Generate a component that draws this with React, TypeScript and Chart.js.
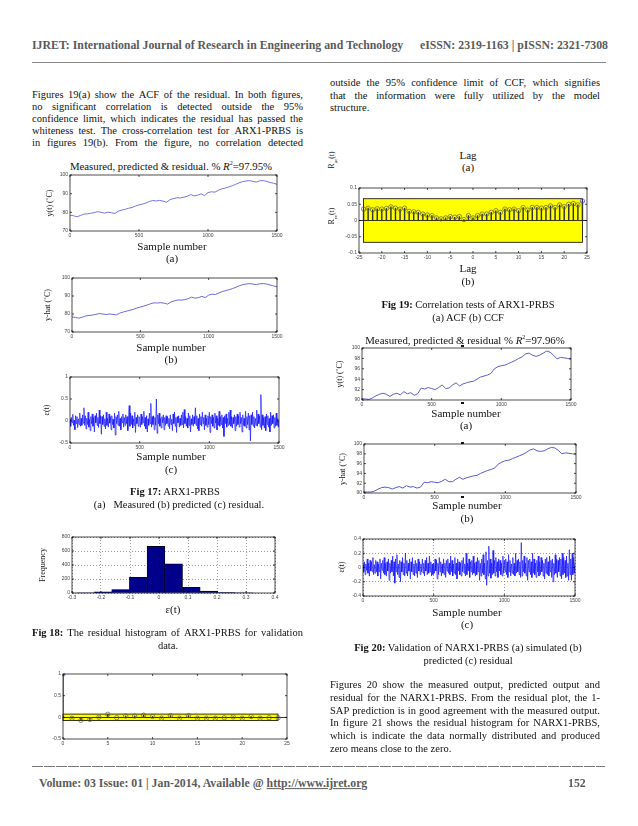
import React, { useEffect, useRef } from "react";
import { Chart, registerables } from "chart.js";
Chart.register(...registerables);

// ---------- DATA ----------
// Fig 17 (a) measured / (b) predicted temperature, one value every 25 samples
const measured17 = [78.5, 78.2, 77.6, 78.3, 79.0, 79.2, 79.5, 79.8, 80.4, 80.0, 79.6, 80.1, 79.8, 79.4, 80.6, 81.2, 81.6, 82.2, 82.6, 83.4, 84.0, 84.4, 85.0, 85.8, 86.3, 86.1, 86.4, 86.0, 85.4, 86.8, 87.4, 87.8, 87.7, 88.1, 88.6, 89.5, 88.8, 89.2, 89.9, 89.0, 90.6, 91.0, 90.8, 91.8, 92.6, 93.0, 93.6, 94.2, 95.0, 95.8, 96.4, 96.8, 97.0, 96.6, 96.2, 96.9, 97.0, 96.6, 96.0, 95.6, 95.0];
const predicted17 = [78.4, 78.1, 77.7, 78.2, 78.9, 79.2, 79.4, 79.8, 80.3, 80.0, 79.7, 80.0, 79.8, 79.5, 80.5, 81.1, 81.6, 82.1, 82.6, 83.3, 83.9, 84.4, 85.0, 85.7, 86.2, 86.1, 86.3, 86.0, 85.5, 86.7, 87.3, 87.8, 87.7, 88.0, 88.5, 89.4, 88.8, 89.1, 89.8, 89.1, 90.5, 91.0, 90.8, 91.7, 92.5, 93.0, 93.5, 94.1, 94.9, 95.7, 96.3, 96.7, 96.9, 96.6, 96.3, 96.8, 96.9, 96.6, 96.1, 95.6, 95.1];
// Fig 20 (a) measured / (b) predicted temperature, one value every 25 samples
const measured20 = [90.2, 90.2, 90.1, 90.4, 90.8, 91.1, 91.3, 91.1, 90.7, 91.1, 91.3, 91.0, 91.6, 91.2, 91.4, 90.9, 91.2, 92.3, 92.1, 92.4, 92.2, 92.0, 92.4, 92.9, 92.2, 92.3, 92.9, 93.3, 92.7, 93.1, 93.3, 93.5, 93.6, 94.0, 94.4, 94.6, 94.8, 95.1, 96.0, 96.4, 96.6, 96.7, 97.0, 97.3, 97.6, 98.0, 98.3, 98.9, 99.0, 98.6, 98.4, 98.6, 99.0, 99.4, 99.2, 98.6, 97.9, 98.2, 98.1, 98.0, 97.8];
const predicted20 = [90.2, 90.2, 90.2, 90.4, 90.8, 91.1, 91.2, 91.1, 90.8, 91.1, 91.3, 91.0, 91.5, 91.2, 91.3, 91.0, 91.2, 92.2, 92.1, 92.3, 92.2, 92.1, 92.4, 92.8, 92.3, 92.3, 92.8, 93.2, 92.8, 93.1, 93.3, 93.5, 93.6, 94.0, 94.3, 94.6, 94.8, 95.1, 95.9, 96.3, 96.6, 96.7, 97.0, 97.3, 97.6, 97.9, 98.3, 98.8, 99.0, 98.6, 98.5, 98.6, 99.0, 99.3, 99.2, 98.7, 98.0, 98.2, 98.1, 98.0, 97.9];
// residuals, one value every 5 samples
const resid17 = [
  0.05, -0.12, 0.08, -0.04, 0.15, -0.1, 0.02, -0.2, 0.12, -0.06, 0.1, -0.15, 0.05, -0.08, 0.18, -0.12, 0.06, -0.1, 0.14, -0.05,
  0.3, -0.1, 0.12, -0.18, 0.06, -0.08, 0.2, -0.14, 0.04, -0.22, 0.1, -0.06, 0.16, -0.12, 0.08, -0.25, 0.12, -0.04, 0.18, -0.1,
  0.08, -0.15, 0.25, -0.06, 0.12, -0.3, 0.1, -0.08, 0.14, -0.12, 0.05, -0.18, 0.2, -0.1, 0.06, -0.14, 0.16, -0.05, 0.1, -0.2,
  0.12, -0.08, 0.04, -0.16, 0.18, -0.32, 0.1, -0.06, 0.14, -0.1, 0.22, -0.12, 0.06, -0.2, 0.1, -0.04, 0.16, -0.14, 0.08, -0.1,
  0.14, -0.06, 0.1, -0.22, 0.06, 0.35, -0.12, 0.18, -0.08, 0.12, -0.16, 0.05, -0.1, 0.2, -0.26, 0.08, -0.06, 0.14, -0.12, 0.1,
  0.06, -0.14, 0.16, -0.08, 0.1, -0.04, 0.22, -0.12, 0.08, -0.18, 0.12, -0.25, 0.05, -0.1, 0.18, -0.06, 0.4, -0.14, 0.1, -0.08,
  0.12, -0.2, 0.08, -0.1, 0.5, -0.28, 0.14, -0.06, 0.18, -0.12, 0.06, -0.16, 0.1, -0.04, 0.14, -0.2, 0.08, -0.1, 0.12, -0.06,
  0.1, -0.12, 0.06, -0.18, 0.14, -0.08, 0.04, -0.22, 0.16, -0.06, 0.2, -0.12, 0.08, -0.26, 0.1, -0.04, 0.12, -0.14, 0.06, -0.1,
  0.14, -0.08, 0.2, -0.16, 0.26, -0.06, 0.1, -0.12, 0.06, -0.16, 0.18, -0.1, 0.12, -0.25, 0.05, -0.08, 0.14, -0.12, 0.1, -0.06,
  0.3, -0.1, 0.12, -0.18, 0.06, -0.22, 0.16, -0.08, 0.1, -0.12, 0.2, -0.06, 0.08, -0.2, 0.14, -0.1, 0.06, -0.14, 0.12, -0.08,
  0.2, -0.26, 0.1, -0.06, 0.14, -0.12, 0.08, -0.16, 0.18, -0.05, 0.12, -0.2, 0.06, -0.1, 0.22, -0.12, 0.1, -0.08, 0.14, -0.16,
  0.08, -0.35, 0.12, -0.06, 0.16, -0.14, 0.06, -0.1, 0.2, -0.08, 0.25, -0.12, 0.1, -0.16, 0.08, -0.06, 0.14, -0.22, 0.1, -0.12,
  0.16, -0.08, 0.12, -0.14, 0.2, -0.06, 0.08, -0.25, 0.14, -0.1, 0.06, -0.12, 0.22, -0.16, 0.1, -0.08, 0.18, -0.2, 0.12, -0.45,
  0.14, -0.08, 0.2, -0.12, 0.1, -0.16, 0.06, -0.1, 0.25, -0.12, 0.16, -0.06, 0.12, -0.14, 0.6, -0.2, 0.14, -0.1, 0.08, -0.16,
  0.1, -0.22, 0.16, -0.08, 0.12, -0.14, 0.06, -0.25, 0.2, -0.1, 0.12, -0.06, 0.14, -0.16, 0.08, -0.12, 0.18, -0.1, 0.06, -0.14,
  0.04];
const resid20 = [
  0.04, -0.06, 0.08, -0.1, 0.05, -0.04, 0.12, -0.08, 0.06, -0.12, 0.1, -0.05, 0.08, -0.06, 0.14, -0.1, 0.04, -0.08, 0.1, -0.06,
  0.08, -0.12, 0.05, -0.06, 0.12, -0.16, 0.06, -0.04, 0.1, -0.08, 0.14, -0.1, 0.06, -0.12, 0.08, -0.05, 0.12, -0.18, 0.06, -0.08,
  0.1, -0.06, 0.16, -0.12, 0.08, -0.22, 0.12, -0.06, 0.18, -0.1, 0.05, -0.14, 0.1, -0.2, 0.08, -0.06, 0.14, -0.1, 0.06, -0.12,
  0.2, -0.08, 0.1, -0.12, 0.06, -0.05, 0.12, -0.16, 0.08, -0.06, 0.14, -0.1, 0.05, -0.12, 0.1, -0.08, 0.06, -0.14, 0.12, -0.05,
  0.08, -0.1, 0.05, -0.06, 0.12, -0.08, 0.06, -0.12, 0.1, -0.05, 0.14, -0.1, 0.06, -0.08, 0.16, -0.06, 0.08, -0.12, 0.05, -0.1,
  0.06, -0.08, 0.12, -0.05, 0.1, -0.16, 0.06, -0.1, 0.14, -0.06, 0.08, -0.12, 0.05, -0.08, 0.12, -0.1, 0.06, -0.14, 0.1, -0.05,
  0.12, -0.08, 0.06, -0.1, 0.16, -0.06, 0.1, -0.12, 0.05, -0.08, 0.14, -0.1, 0.06, -0.16, 0.12, -0.05, 0.08, -0.1, 0.06, -0.12,
  0.1, -0.06, 0.14, -0.08, 0.05, -0.12, 0.2, -0.1, 0.06, -0.05, 0.12, -0.14, 0.08, -0.06, 0.1, -0.1, 0.16, -0.08, 0.06, -0.12,
  0.08, -0.1, 0.14, -0.06, 0.1, -0.18, 0.06, -0.12, 0.12, -0.08, 0.18, -0.1, 0.06, -0.16, 0.22, -0.25, 0.1, -0.12, 0.3, -0.08,
  0.12, -0.15, 0.06, -0.1, 0.24, -0.08, 0.1, -0.12, 0.14, -0.06, 0.08, -0.14, 0.12, -0.05, 0.1, -0.1, 0.06, -0.12, 0.16, -0.08,
  0.1, -0.06, 0.12, -0.1, 0.08, -0.14, 0.18, -0.06, 0.1, -0.12, 0.05, -0.08, 0.14, -0.1, 0.06, -0.12, 0.2, -0.08, 0.1, -0.06,
  0.12, -0.1, 0.08, -0.14, 0.35, -0.12, 0.1, -0.06, 0.16, -0.08, 0.06, -0.12, 0.14, -0.18, 0.1, -0.06, 0.12, -0.1, 0.08, -0.14,
  0.2, -0.08, 0.12, -0.1, 0.06, -0.14, 0.1, -0.06, 0.16, -0.12, 0.08, -0.1, 0.14, -0.06, 0.1, -0.12, 0.06, -0.16, 0.12, -0.08,
  0.14, -0.1, 0.08, -0.12, 0.16, -0.06, 0.1, -0.14, 0.12, -0.2, 0.06, -0.1, 0.18, -0.08, 0.12, -0.14, 0.1, -0.06, 0.14, -0.12,
  0.12, -0.16, 0.2, -0.1, 0.14, -0.08, 0.1, -0.14, 0.16, -0.12, 0.06, -0.18, 0.25, -0.1, 0.12, -0.18, 0.2, -0.1, 0.14, -0.08,
  0.06];
const tempSamples = measured17.map((_, i) => i * 25);
const residSamples = resid17.map((_, i) => i * 5);

// Fig 18 histogram
const histCenters = [-0.2545, -0.1935, -0.1325, -0.0715, -0.0105, 0.0505, 0.1115, 0.1725, 0.2335, 0.2945];
const histCounts = [4, 15, 50, 225, 665, 415, 82, 27, 6, 4];

// Fig 19 (a) ACF
const acfLags = [0, 1, 2, 3, 4, 5, 6, 7, 8, 9, 10, 11, 12, 13, 14, 15, 16, 17, 18, 19, 20, 21, 22, 23, 24];
const acfValues = [1, -0.02, -0.07, -0.05, 0.005, 0.07, -0.01, 0.03, 0.03, 0.05, 0.02, -0.02, 0.04, -0.02, 0.04, -0.02, -0.02, -0.02, -0.01, 0.01, -0.02, 0.02, -0.02, -0.01, -0.01];
const acfConf = 0.075;
// Fig 19 (b) CCF
const ccfLags = [-24, -23, -22, -21, -20, -19, -18, -17, -16, -15, -14, -13, -12, -11, -10, -9, -8, -7, -6, -5, -4, -3, -2, -1, 0, 1, 2, 3, 4, 5, 6, 7, 8, 9, 10, 11, 12, 13, 14, 15, 16, 17, 18, 19, 20, 21, 22, 23, 24];
const ccfValues = [0.035, 0.038, 0.033, 0.036, 0.035, 0.037, 0.042, 0.038, 0.035, 0.038, 0.028, 0.027, 0.025, 0.02, 0.017, 0.015, 0.008, 0.005, 0.008, 0.012, 0.01, 0.012, 0.003, 0.015, 0.008, 0.015, 0.02, 0.02, 0.025, 0.03, 0.025, 0.035, 0.033, 0.035, 0.03, 0.04, 0.032, 0.04, 0.04, 0.038, 0.04, 0.045, 0.04, 0.048, 0.043, 0.05, 0.052, 0.048, 0.06];
const ccfConf = 0.067;

// ---------- STYLE HELPERS ----------
const SERIF = '"Liberation Serif", "Times New Roman", serif';
const tickFont = { family: '"Liberation Sans", Arial, sans-serif', size: 5 };
const fmt = (v: number) => String(Math.round(v * 1000) / 1000);

function lin(min: number, max: number, step: number, dotted = false): any {
  return {
    type: "linear",
    min,
    max,
    offset: false,
    ticks: { stepSize: step, font: tickFont, color: "#444", padding: 2, maxRotation: 0, autoSkip: false, callback: (v: any) => fmt(Number(v)) },
    grid: dotted
      ? { display: true, drawTicks: false, color: "#555", lineWidth: 0.6, offset: false }
      : { display: false, drawTicks: false, offset: false },
    border: { display: false, dash: dotted ? [1, 2] : [] },
  };
}
const zeroGrid = {
  display: true,
  drawTicks: false,
  offset: false,
  lineWidth: 0.8,
  color: (c: any) => (c.tick && Math.abs(c.tick.value) < 1e-9 ? "#000" : "rgba(0,0,0,0)"),
};

const framePlugin = {
  id: "frame",
  afterDatasetsDraw(chart: any) {
    const { ctx, chartArea: a, scales } = chart;
    ctx.save();
    ctx.strokeStyle = "#000";
    ctx.lineWidth = 0.7;
    ctx.strokeRect(a.left, a.top, a.right - a.left, a.bottom - a.top);
    const L = 2;
    ctx.beginPath();
    scales.x.ticks.forEach((t: any) => {
      const p = scales.x.getPixelForValue(t.value);
      ctx.moveTo(p, a.bottom); ctx.lineTo(p, a.bottom - L);
      ctx.moveTo(p, a.top); ctx.lineTo(p, a.top + L);
    });
    scales.y.ticks.forEach((t: any) => {
      const p = scales.y.getPixelForValue(t.value);
      ctx.moveTo(a.left, p); ctx.lineTo(a.left + L, p);
      ctx.moveTo(a.right, p); ctx.lineTo(a.right - L, p);
    });
    ctx.stroke();
    ctx.restore();
  },
};

const bandPlugin = {
  id: "band",
  beforeDraw(chart: any, _a: any, opts: any) {
    if (!opts || opts.x0 === undefined) return;
    const { ctx, scales } = chart;
    const l = scales.x.getPixelForValue(opts.x0);
    const r = scales.x.getPixelForValue(opts.x1);
    const t = scales.y.getPixelForValue(opts.y1);
    const b = scales.y.getPixelForValue(opts.y0);
    ctx.save();
    ctx.fillStyle = "#ffff00";
    ctx.fillRect(l, t, r - l, b - t);
    ctx.strokeStyle = "#000";
    ctx.lineWidth = 0.8;
    ctx.strokeRect(l, t, r - l, b - t);
    ctx.restore();
  },
};

type Box = { l: number; t: number; r: number; b: number };
const YW = 22, XH = 11, PT = 5, PR = 10;

function Plot({ box, make }: { box: Box; make: () => any }) {
  const ref = useRef<HTMLCanvasElement>(null);
  const w = box.r - box.l + YW + PR;
  const h = box.b - box.t + PT + XH;
  useEffect(() => {
    const cfg = make();
    const o = cfg.options || {};
    o.responsive = false;
    o.maintainAspectRatio = false;
    o.animation = false;
    o.layout = { padding: { left: 0, top: PT, right: PR, bottom: 0 } };
    o.plugins = { legend: { display: false }, tooltip: { enabled: false }, ...(o.plugins || {}) };
    o.scales.x.afterFit = (s: any) => { s.height = XH; };
    o.scales.y.afterFit = (s: any) => { s.width = YW; };
    cfg.options = o;
    cfg.plugins = [...(cfg.plugins || []), framePlugin];
    const c = new Chart(ref.current as HTMLCanvasElement, cfg);
    return () => c.destroy();
  }, []);
  return (
    <canvas ref={ref} width={w} height={h}
      style={{ position: "absolute", left: box.l - YW, top: box.t - PT, width: w, height: h }} />
  );
}

const traceCfg = (vals: number[], ymin: number, ymax: number, ystep: number, color: string) => () => ({
  type: "line",
  data: { datasets: [{ data: tempSamples.map((x, i) => ({ x, y: vals[i] })), borderColor: color, borderWidth: 1, pointRadius: 0, tension: 0 }] },
  options: { scales: { x: lin(0, 1500, 500), y: lin(ymin, ymax, ystep) } },
});

const residCfg = (vals: number[], ymin: number, ymax: number, ystep: number, dotted: boolean) => () => ({
  type: "line",
  data: { datasets: [{ data: residSamples.map((x, i) => ({ x, y: vals[i] })), borderColor: "#1414ff", borderWidth: 0.7, pointRadius: 0, tension: 0 }] },
  options: { scales: { x: lin(0, 1500, 500, dotted), y: lin(ymin, ymax, ystep, dotted) } },
});

const histCfg = () => ({
  type: "bar",
  data: { datasets: [{ data: histCenters.map((x, i) => ({ x, y: histCounts[i] })), backgroundColor: "#00008b", borderColor: "#000", borderWidth: 0.6, barPercentage: 1, categoryPercentage: 1 }] },
  options: { scales: { x: lin(-0.3, 0.4, 0.1, true), y: lin(0, 800, 200, true) } },
});

const stemCfg = (lags: number[], vals: number[], conf: number, x0: number, x1: number, xmin: number, xmax: number, xstep: number, ymin: number, ymax: number, ystep: number, blueLag: number) => () => {
  const pts = lags.map((x, i) => ({ x, y: vals[i] }));
  const y = lin(ymin, ymax, ystep);
  y.grid = zeroGrid;
  return {
    type: "bar",
    data: {
      datasets: [
        { type: "line", data: pts, showLine: false, pointRadius: 2.2, pointBorderWidth: 0.7, pointBackgroundColor: "rgba(0,0,0,0)", pointBorderColor: lags.map((l) => (l === blueLag ? "#3a3aff" : "#5c5c3a")), order: 0 },
        { type: "bar", data: pts, backgroundColor: lags.map((l) => (l === blueLag && blueLag === 0 ? "#4444ff" : "#333")), barThickness: 0.8, order: 1 },
      ],
    },
    options: { plugins: { band: { x0, x1, y0: -conf, y1: conf } }, scales: { x: lin(xmin, xmax, xstep), y } },
    plugins: [bandPlugin],
  };
};

// ---------- TEXT HELPERS ----------
function T({ x, y, size = 10.5, align = "center", bold = false, color = "#111", children, rotate = false, family = SERIF }: any) {
  const tx = align === "center" ? "-50%" : align === "right" ? "-100%" : "0";
  return (
    <div style={{ position: "absolute", left: x, top: y, fontFamily: family, fontSize: size, lineHeight: 1, whiteSpace: "pre", color, fontWeight: bold ? "bold" : "normal", transform: `translate(${tx},-50%)${rotate ? " rotate(-90deg)" : ""}` }}>
      {children}
    </div>
  );
}
function J({ x, y, w, text, size = 10.5 }: any) {
  return (
    <div style={{ position: "absolute", left: x, top: y, width: w, display: "flex", justifyContent: "space-between", transform: "translateY(-50%)", fontFamily: SERIF, fontSize: size, lineHeight: 1, whiteSpace: "pre", color: "#111" }}>
      {text.split(" ").map((wd: string, i: number) => <span key={i}>{wd}</span>)}
    </div>
  );
}
const Dot = ({ x, y }: any) => <div style={{ position: "absolute", left: x, top: y, width: 3, height: 2, background: "#111" }} />;

const leftPara = [
  "Figures 19(a) show the ACF of the residual. In both figures,",
  "no significant correlation is detected outside the 95%",
  "confidence limit, which indicates the residual has passed the",
  "whiteness test. The cross-correlation test for ARX1-PRBS is",
  "in figures 19(b). From the figure, no correlation detected",
];
const rightTop = [
  "outside the 95% confidence limit of CCF, which signifies",
  "that the information were fully utilized by the model",
];
const rightPara = [
  "Figures 20 show the measured output, predicted output and",
  "residual for the NARX1-PRBS. From the residual plot, the 1-",
  "SAP prediction is in good agreement with the measured output.",
  "In figure 21 shows the residual histogram for NARX1-PRBS,",
  "which is indicate the data normally distributed and produced",
];

export default function App() {
  const grey = "#5a5a5a";
  return (
    <div style={{ position: "absolute", left: 0, top: 0, width: 638, height: 826, background: "#fff", overflow: "hidden" }}>
      {/* header */}
      <T x={32} y={46} size={11.8} align="left" bold color={grey}>IJRET: International Journal of Research in Engineering and Technology</T>
      <T x={608} y={46} size={11.8} align="right" bold color={grey}>eISSN: 2319-1163 | pISSN: 2321-7308</T>
      <div style={{ position: "absolute", left: 32, top: 62, width: 574, height: 1, background: "#888" }} />

      {/* left paragraph */}
      {leftPara.map((s, i) => <J key={i} x={32} y={95 + i * 12} w={271} text={s} />)}
      {/* right top paragraph */}
      {rightTop.map((s, i) => <J key={i} x={330} y={83 + i * 12.5} w={270} text={s} />)}
      <T x={330} y={108} align="left">structure.</T>

      {/* Fig 17 */}
      <T x={171} y={166} size={10.8}>Measured, predicted &amp; residual. % <i>R</i><sup style={{ fontSize: 6 }}>2</sup>=97.95%</T>
      <Plot box={{ l: 70, t: 175, r: 277, b: 231 }} make={traceCfg(measured17, 70, 100, 10, "#7474e2")} />
      <T x={50} y={203} size={8} rotate>y(t) (˚C)</T>
      <T x={172} y={246} size={11}>Sample number</T>
      <T x={172} y={258} size={11}>(a)</T>

      <Plot box={{ l: 72, t: 278, r: 277, b: 332 }} make={traceCfg(predicted17, 70, 100, 10, "#6a6ad8")} />
      <T x={48} y={305} size={8} rotate>y-hat (˚C)</T>
      <T x={171} y={347} size={11}>Sample number</T>
      <T x={171} y={359} size={11}>(b)</T>

      <Plot box={{ l: 70, t: 377, r: 279, b: 443 }} make={residCfg(resid17, -0.5, 1, 0.5, false)} />
      <T x={47} y={410} size={8} rotate>ε(t)</T>
      <T x={171} y={456} size={11}>Sample number</T>
      <T x={171} y={469} size={11}>(c)</T>

      <T x={175} y={492} size={10.5}><b>Fig 17:</b> ARX1-PRBS</T>
      <T x={179} y={505} size={10.5}>{"(a)   Measured (b) predicted (c) residual."}</T>

      {/* Fig 18 */}
      <Plot box={{ l: 72, t: 537, r: 275, b: 593 }} make={histCfg} />
      <T x={43} y={565} size={8} rotate>Frequency</T>
      <T x={173} y={609} size={11}>ε(t)</T>
      <div style={{ position: "absolute", left: 32, top: 633, width: 271, display: "flex", justifyContent: "space-between", transform: "translateY(-50%)", fontFamily: SERIF, fontSize: 10.5, lineHeight: 1, whiteSpace: "pre", color: "#111" }}>
        {["Fig 18:", "The", "residual", "histogram", "of", "ARX1-PRBS", "for", "validation"].map((wd, i) => <span key={i} style={{ fontWeight: i === 0 ? "bold" : "normal" }}>{wd}</span>)}
      </div>
      <T x={168} y={646} size={10.5}>data.</T>

      {/* Fig 19 (a) ACF */}
      <Plot box={{ l: 63, t: 674, r: 287, b: 739 }} make={stemCfg(acfLags, acfValues, acfConf, 0, 24, 0, 25, 5, -0.5, 1, 0.5, 0)} />
      <T x={333} y={160} size={7.5} rotate>R<sub style={{ fontSize: 5 }}>με</sub>(t)</T>
      <T x={468} y={155} size={11}>Lag</T>
      <T x={468} y={167} size={11}>(a)</T>

      {/* Fig 19 (b) CCF */}
      <Plot box={{ l: 359, t: 188, r: 587, b: 253 }} make={stemCfg(ccfLags, ccfValues, ccfConf, -24, 24, -25, 25, 5, -0.1, 0.1, 0.05, 24)} />
      <T x={333} y={216} size={7.5} rotate>R<sub style={{ fontSize: 5 }}>εε</sub>(t)</T>
      <T x={468} y={268} size={11}>Lag</T>
      <T x={468} y={281} size={11}>(b)</T>
      <T x={468} y={305} size={10.5}><b>Fig 19:</b> Correlation tests of ARX1-PRBS</T>
      <T x={468} y={318} size={10.5}>(a) ACF (b) CCF</T>

      {/* Fig 20 */}
      <T x={465} y={340} size={10.8}>Measured, predicted &amp; residual % <i>R</i><sup style={{ fontSize: 6 }}>2</sup>=97.96%</T>
      <Plot box={{ l: 362, t: 348, r: 571, b: 400 }} make={traceCfg(measured20, 90, 100, 2, "#5c5cd0")} />
      <T x={340} y={374} size={8} rotate>y(t) (˚C)</T>
      <T x={466} y={413} size={11}>Sample number</T>
      <T x={466} y={425} size={11}>(a)</T>

      <Plot box={{ l: 364, t: 444, r: 576, b: 493 }} make={traceCfg(predicted20, 90, 100, 2, "#5858cc")} />
      <T x={343} y={469} size={8} rotate>y-hat (˚C)</T>
      <T x={467} y={505} size={11}>Sample number</T>
      <T x={467} y={518} size={11}>(b)</T>

      <Plot box={{ l: 363, t: 539, r: 575, b: 596 }} make={residCfg(resid20, -0.4, 0.4, 0.2, true)} />
      <T x={342} y={567} size={8} rotate>ε(t)</T>
      <T x={467} y={612} size={11}>Sample number</T>
      <T x={467} y={624} size={11}>(c)</T>

      <Dot x={461} y={345} />
      <Dot x={461} y={402} />
      <Dot x={461} y={442} />
      <Dot x={461} y={496} />

      <T x={468} y={648} size={10.5}><b>Fig 20:</b> Validation of NARX1-PRBS (a) simulated (b)</T>
      <T x={468} y={661} size={10.5}>predicted (c) residual</T>

      {/* right bottom paragraph */}
      {rightPara.map((s, i) => <J key={i} x={330} y={685 + i * 12.8} w={270} text={s} />)}
      <T x={330} y={749} align="left">zero means close to the zero.</T>

      {/* footer */}
      <div style={{ position: "absolute", left: 32, top: 766, width: 573, height: 1, background: "repeating-linear-gradient(to right, #777 0 11px, transparent 11px 12px)" }} />
      <T x={39} y={784} size={11.8} align="left" bold color={grey}>Volume: 03 Issue: 01 | Jan-2014, Available @ <span style={{ textDecoration: "underline" }}>http://www.ijret.org</span></T>
      <T x={568} y={784} size={11.8} align="left" bold color={grey}>152</T>
    </div>
  );
}
